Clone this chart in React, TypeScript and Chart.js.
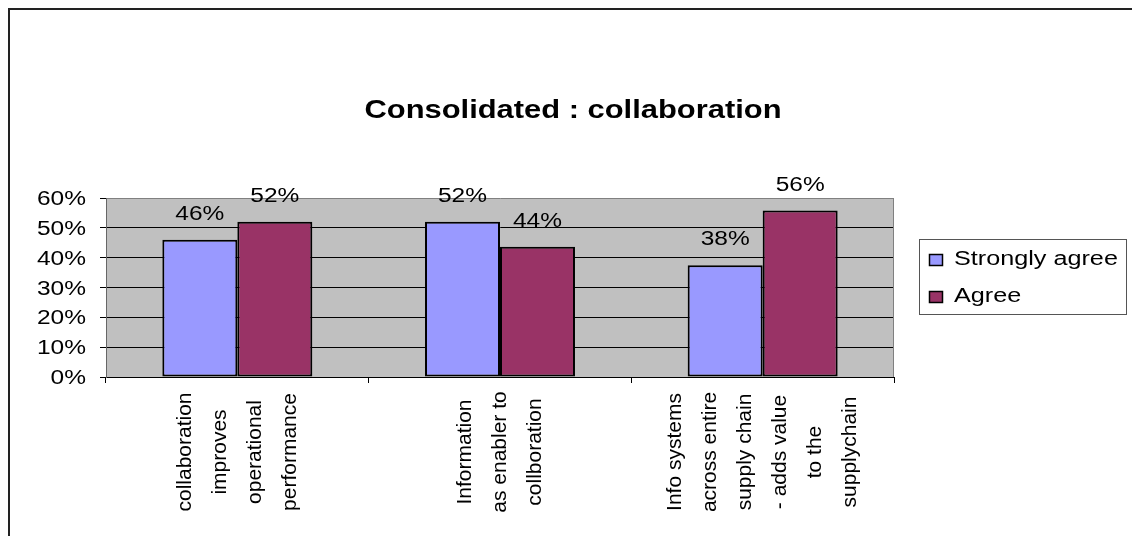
import React, { useEffect, useRef } from "react";
import { Chart, registerables } from "chart.js";

Chart.register(...registerables);

const TITLE = "Consolidated : collaboration";
const CATEGORIES: string[][] = [
  ["collaboration", "improves", "operational", "performance"],
  ["Information", "as enabler to", "collboration"],
  ["Info systems", "across entire", "supply chain", "- adds value", "to the", "supplychain"],
];
const SERIES_NAMES = ["Strongly agree", "Agree"];
const STRONGLY_AGREE = [0.46, 0.52, 0.375];
const AGREE = [0.52, 0.437, 0.558];
const COLORS = ["#9999FF", "#993366"];
const Y_MIN = 0;
const Y_MAX = 0.6;
const Y_STEP = 0.1;

const FONT = "'Liberation Sans', Arial, sans-serif";

function drawText(
  ctx: CanvasRenderingContext2D,
  text: string,
  x: number,
  y: number,
  font: string,
  sx: number,
  align: "left" | "center" | "right"
) {
  ctx.save();
  ctx.font = font;
  ctx.textAlign = "left";
  ctx.textBaseline = "alphabetic";
  const w = ctx.measureText(text).width * sx;
  const left = align === "center" ? x - w / 2 : align === "right" ? x - w : x;
  ctx.translate(left, y);
  ctx.scale(sx, 1);
  ctx.fillText(text, 0, 0);
  ctx.restore();
}

const decorPlugin = {
  id: "decor",
  beforeDraw(chart: any) {
    const { ctx, chartArea } = chart;
    ctx.save();
    ctx.fillStyle = "#ffffff";
    ctx.fillRect(0, 0, chart.width, chart.height);
    ctx.fillStyle = "#C0C0C0";
    ctx.fillRect(chartArea.left, chartArea.top, chartArea.right - chartArea.left, chartArea.bottom - chartArea.top);
    ctx.restore();
  },
  afterDraw(chart: any) {
    const { ctx, chartArea } = chart;
    ctx.save();
    // outer frame
    ctx.fillStyle = "#222";
    ctx.fillRect(8, 8, 2, chart.height - 8);
    ctx.fillRect(8, 8, chart.width - 8, 2);
    // right plot border
    ctx.strokeStyle = "#808080";
    ctx.lineWidth = 1;
    ctx.beginPath();
    ctx.moveTo(Math.round(chartArea.right) - 0.5, chartArea.top);
    ctx.lineTo(Math.round(chartArea.right) - 0.5, chartArea.bottom);
    ctx.stroke();

    ctx.fillStyle = "#000";
    // title
    drawText(ctx, TITLE, 573, 118, `bold 26px ${FONT}`, 1.188, "center");

    // y tick labels
    const yScale = chart.scales.y;
    yScale.ticks.forEach((t: any) => {
      const y = yScale.getPixelForValue(t.value);
      drawText(ctx, Math.round(t.value * 100) + "%", 86, y + 7, `19.5px ${FONT}`, 1.256, "right");
    });

    // x category labels (rotated, centered lines)
    const xScale = chart.scales.x;
    ctx.font = `21px ${FONT}`;
    ctx.textAlign = "center";
    ctx.textBaseline = "middle";
    (chart.data.labels as string[][]).forEach((lines, i) => {
      const x = xScale.getPixelForTick(i);
      const n = lines.length;
      lines.forEach((line, k) => {
        ctx.save();
        ctx.translate(x + (k - (n - 1) / 2) * 35, 452);
        ctx.rotate(-Math.PI / 2);
        ctx.fillText(line, 0, 0);
        ctx.restore();
      });
    });

    // data labels
    chart.data.datasets.forEach((ds: any, di: number) => {
      const meta = chart.getDatasetMeta(di);
      meta.data.forEach((el: any, j: number) => {
        const v = ds.data[j] as number;
        drawText(ctx, Math.round(v * 100) + "%", el.x, el.y - 20, `19.5px ${FONT}`, 1.256, "center");
      });
    });

    // legend
    ctx.strokeStyle = "#555";
    ctx.lineWidth = 1;
    ctx.strokeRect(919.5, 239.5, 207, 75);
    const rows = [
      { sq: 254, base: 265 },
      { sq: 291, base: 302 },
    ];
    chart.data.datasets.forEach((ds: any, di: number) => {
      const r = rows[di];
      ctx.fillStyle = ds.backgroundColor;
      ctx.fillRect(929, r.sq, 13, 11);
      ctx.strokeStyle = "#000";
      ctx.lineWidth = 1.5;
      ctx.strokeRect(929.5, r.sq + 0.5, 13, 11);
      ctx.fillStyle = "#000";
      drawText(ctx, ds.label, 954, r.base, `20px ${FONT}`, 1.26, "left");
    });
    ctx.restore();
  },
};

export default function App() {
  const canvasRef = useRef<HTMLCanvasElement | null>(null);

  useEffect(() => {
    if (!canvasRef.current) return;
    const chart = new Chart(canvasRef.current, {
      type: "bar",
      data: {
        labels: CATEGORIES,
        datasets: [
          {
            label: SERIES_NAMES[0],
            data: STRONGLY_AGREE,
            backgroundColor: COLORS[0],
            borderColor: "#000",
            borderWidth: 2,
            borderSkipped: false,
          },
          {
            label: SERIES_NAMES[1],
            data: AGREE,
            backgroundColor: COLORS[1],
            borderColor: "#000",
            borderWidth: 2,
            borderSkipped: false,
          },
        ],
      },
      options: {
        animation: false,
        responsive: false,
        devicePixelRatio: 1,
        layout: { padding: { left: 100, top: 198, right: 238, bottom: 153 } },
        plugins: {
          legend: { display: false },
          title: { display: false },
          tooltip: { enabled: false },
        },
        datasets: {
          bar: { categoryPercentage: 0.571, barPercentage: 1 },
        },
        scales: {
          x: {
            offset: true,
            grid: {
              offset: true,
              drawOnChartArea: false,
              drawTicks: true,
              tickLength: 6,
              color: "#000",
            },
            border: { display: true, color: "#000", width: 1 },
            ticks: { display: false },
          },
          y: {
            min: Y_MIN,
            max: Y_MAX,
            ticks: { display: false, stepSize: Y_STEP },
            grid: {
              drawTicks: true,
              tickLength: 6,
              color: (c: any) => (c.tick && Math.abs(c.tick.value - Y_MAX) < 1e-6 ? "#808080" : "#000"),
              tickColor: "#000",
            },
            border: { display: true, color: "#666", width: 1 },
          },
        },
      } as any,
      plugins: [decorPlugin],
    });
    return () => chart.destroy();
  }, []);

  return (
    <div style={{ position: "absolute", left: 0, top: 0, width: 1132, height: 536, background: "#fff" }}>
      <canvas ref={canvasRef} width={1132} height={536} style={{ display: "block", width: 1132, height: 536 }} />
    </div>
  );
}
